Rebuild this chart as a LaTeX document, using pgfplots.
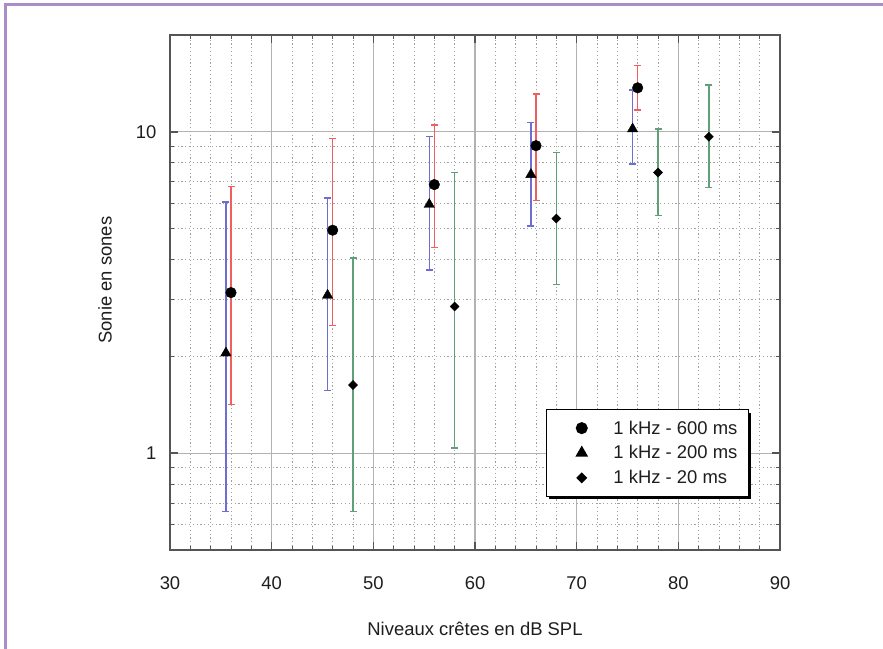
\documentclass[border=0pt]{standalone}
\usepackage{fontspec}
\setmainfont{Liberation Sans}
\usepackage{pgfplots}
\pgfplotsset{compat=1.18}
\usetikzlibrary{shadows}

\definecolor{framelilac}{RGB}{170,140,200}
\definecolor{barred}{RGB}{240,95,95}
\definecolor{barblue}{RGB}{110,110,210}
\definecolor{bargreen}{RGB}{95,160,120}
\definecolor{gridgray}{RGB}{178,178,178}
\definecolor{axisgray}{RGB}{85,85,85}
\definecolor{textgray}{RGB}{30,30,30}

\begin{document}
\begin{tikzpicture}
\path[use as bounding box] (0bp,0bp) rectangle (883bp,649bp);
% page frame
\draw[framelilac, line width=3bp] (5bp,-10bp) -- (5bp,644bp) -- (900bp,644bp);

\begin{axis}[
  at={(170bp,99bp)}, anchor=south west,
  scale only axis, width=610bp, height=515bp,
  font=\fontsize{18.5}{21}\selectfont, text=textgray,
  xmin=30, xmax=90,
  ymode=log, ymin=0.5, ymax=20,
  xtick={30,40,50,60,70,80,90},
  xticklabels={30,40,50,60,70,80,90},
  minor xtick={32,34,36,38,42,44,46,48,52,54,56,58,62,64,66,68,72,74,76,78,82,84,86,88},
  ytick={1,10}, yticklabels={1,10},
  minor ytick={0.6,0.7,0.8,0.9,2,3,4,5,6,7,8,9},
  grid=both,
  major grid style={draw=gridgray, line width=1.3bp},
  minor grid style={draw=gridgray!90!black, line width=0.9bp, dash pattern=on 1.2bp off 2.6bp},
  axis line style={draw=axisgray, line width=1.8bp},
  tick align=inside,
  major tick length=8bp, minor tick length=4bp,
  major tick style={draw=axisgray, line width=1.5bp},
  minor tick style={draw=axisgray, line width=0.9bp},
  xticklabel style={anchor=center, yshift=-33bp},
  yticklabel style={anchor=east, xshift=-10bp},
  xlabel={Niveaux crêtes en dB SPL},
  ylabel={Sonie en sones},
  every axis x label/.style={at={(axis description cs:0.5,-0.153)}, anchor=center},
  every axis y label/.style={at={(axis description cs:-0.1066,0.524)}, rotate=90, anchor=center},
  legend image code/.code={%
    \node[anchor=west, inner sep=0pt, minimum width=56bp, minimum height=2bp] at (-27bp,0bp) {};
    \draw[mark repeat=1,mark phase=1,#1] plot coordinates {(0bp,0bp)};},
  legend cell align=left,
  legend style={at={(0.616,0.103)}, anchor=south west,
    draw=black, line width=1.4bp, fill=white,
    inner xsep=9bp, inner ysep=9bp,
    row sep=6bp,
    nodes={inner sep=2bp},
    drop shadow={shadow xshift=3bp, shadow yshift=-3bp, fill=black, opacity=1},
    font=\fontsize{18.5}{21}\selectfont},
]

% error bars, 600 ms
\addplot[barred, line width=1.5bp, mark=-, mark size=3.5bp, unbounded coords=jump, forget plot]
  coordinates {(36,1.42) (36,6.75) (36,nan)
               (46,2.50) (46,9.54) (46,nan)
               (56,4.37) (56,10.5) (56,nan)
               (66,6.12) (66,13.1) (66,nan)
               (76,11.7) (76,16.1)};
% error bars, 200 ms
\addplot[barblue, line width=1.5bp, mark=-, mark size=3.5bp, unbounded coords=jump, forget plot]
  coordinates {(35.5,0.66) (35.5,6.05) (35.5,nan)
               (45.5,1.57) (45.5,6.23) (45.5,nan)
               (55.5,3.71) (55.5,9.65) (55.5,nan)
               (65.5,5.10) (65.5,10.7) (65.5,nan)
               (75.5,7.93) (75.5,13.5)};
% error bars, 20 ms
\addplot[bargreen, line width=1.5bp, mark=-, mark size=3.5bp, unbounded coords=jump, forget plot]
  coordinates {(48,0.66) (48,4.05) (48,nan)
               (58,1.04) (58,7.47) (58,nan)
               (68,3.35) (68,8.62) (68,nan)
               (78,5.48) (78,10.2) (78,nan)
               (83,6.71) (83,13.97)};

% mean loudness
\addplot[only marks, mark=*, mark size=5.3bp, black]
  coordinates {(36,3.16) (46,4.94) (56,6.85) (66,9.05) (76,13.7)};
\addlegendentry{1 kHz - 600 ms}
\addplot[only marks, mark=triangle*, mark size=6bp, black]
  coordinates {(35.5,2.05) (45.5,3.10) (55.5,5.94) (65.5,7.36) (75.5,10.2)};
\addlegendentry{1 kHz - 200 ms}
\addplot[only marks, mark=diamond*, mark size=6bp, mark options={yscale=0.75}, black]
  coordinates {(48,1.63) (58,2.86) (68,5.37) (78,7.47) (83,9.65)};
\addlegendentry{1 kHz - 20 ms}
\end{axis}
\end{tikzpicture}
\end{document}
